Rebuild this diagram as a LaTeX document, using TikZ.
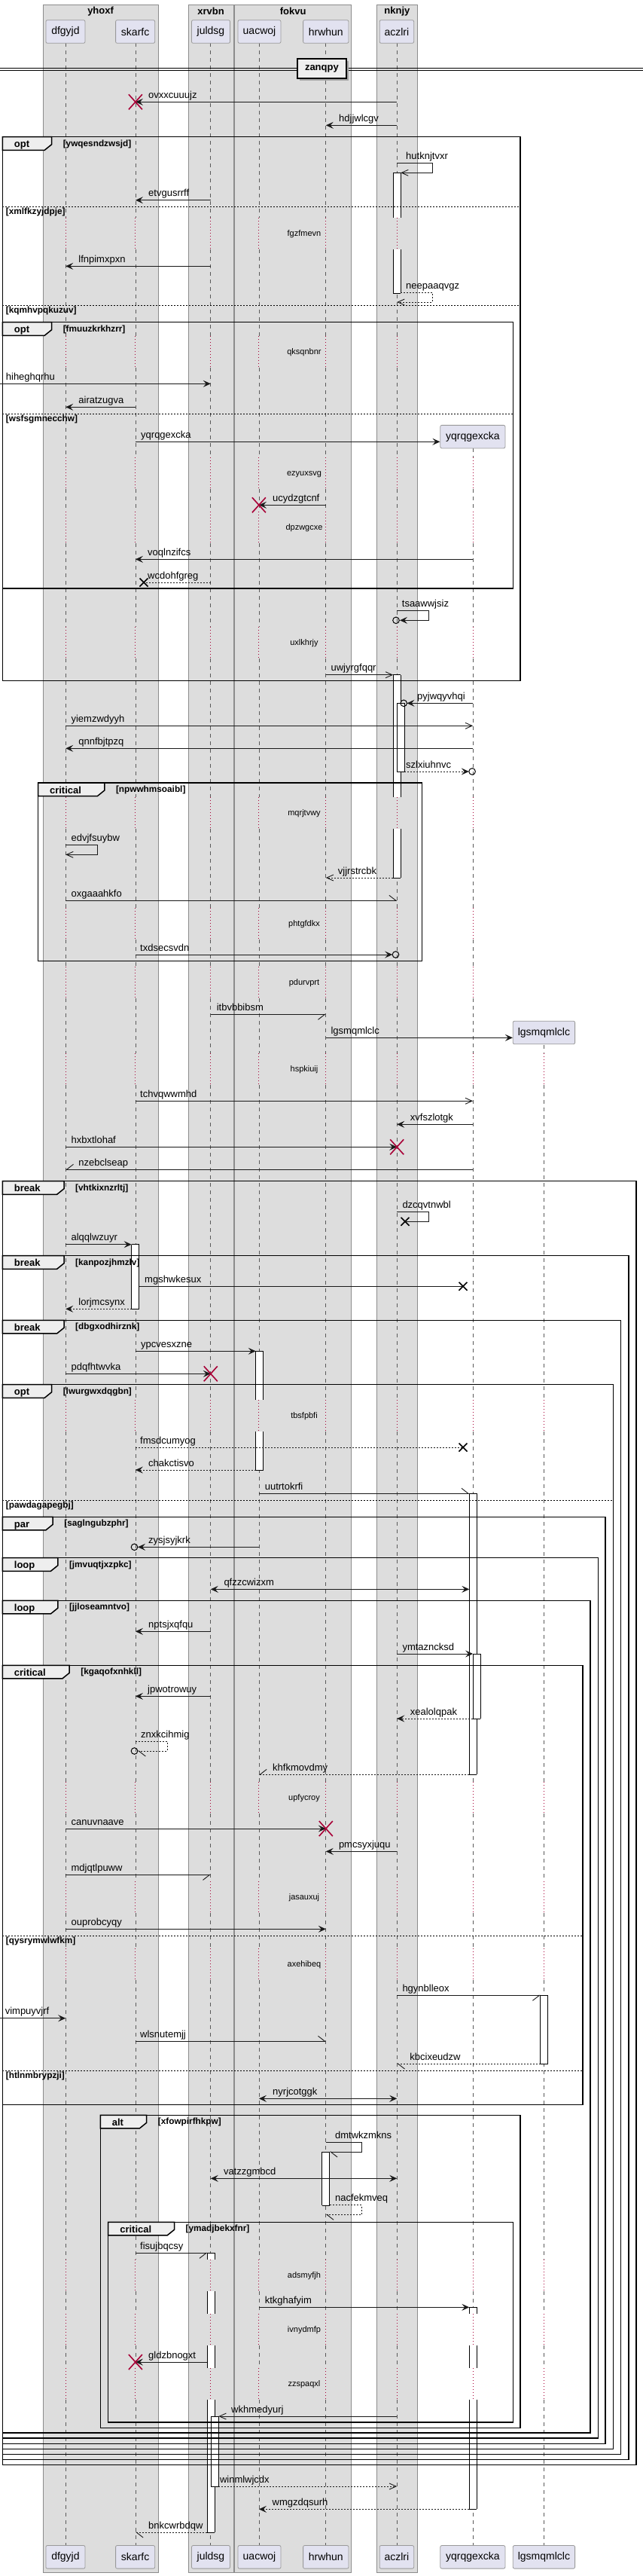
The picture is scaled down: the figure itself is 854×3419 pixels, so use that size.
\documentclass[tikz,border=0pt]{standalone}
\usepackage{fontspec}
\setmainfont{Liberation Sans}
\usetikzlibrary{arrows.meta}
\definecolor{grpfill}{HTML}{DDDDDD}
\definecolor{grpline}{HTML}{8C8C8C}
\definecolor{partfill}{HTML}{E2E2F0}
\definecolor{partline}{HTML}{9A9A9A}
\definecolor{tabfill}{HTML}{EEEEEE}
\definecolor{dred}{HTML}{A80036}
\definecolor{lgray}{HTML}{5A5A5A}
\def\Xdf{87.2}
\def\Xsk{179.9}
\def\Xju{279.8}
\def\Xua{343.9}
\def\Xhr{432.8}
\def\Xac{527.2}
\def\Xyq{628.1}
\def\Xlg{722.4}
\tikzset{
 mlbl/.style={anchor=base west,inner sep=0,font=\fontsize{13}{15}\selectfont},
 dlbl/.style={anchor=base,inner sep=0,font=\fontsize{11}{13}\selectfont},
 tlbl/.style={anchor=base west,inner sep=0,font=\fontsize{13}{15}\selectfont\bfseries},
 clbl/.style={anchor=base west,inner sep=0,font=\fontsize{11.8}{14}\selectfont\bfseries},
 frm/.style={draw=black,line width=1.5pt},
 ftab/.style={fill=tabfill,draw=black,line width=1.5pt},
 elsel/.style={draw=black,line width=1pt,dash pattern=on 2pt off 2pt},
 lifeln/.style={draw=lgray,line width=0.8pt,dash pattern=on 5pt off 5pt},
 dlyln/.style={draw=dred,line width=0.9pt,dash pattern=on 1pt off 3pt},
 actl/.style={draw=black,line width=0.9pt},
 msg/.style={draw=black!90,line width=0.9pt},
 ret/.style={msg,dash pattern=on 2pt off 2pt},
 fa/.style={-{Stealth[length=10pt,width=9pt,inset=4pt]}},
 oa/.style={-{Straight Barb[length=9pt,width=8pt]}},
 hpa/.style={-{Straight Barb[harpoon,length=9pt,width=14pt]}},
 hpb/.style={-{Straight Barb[harpoon,swap,length=9pt,width=14pt]}},
 bidi/.style={{Stealth[length=10pt,width=9pt,inset=4pt]}-{Stealth[length=10pt,width=9pt,inset=4pt]}},
 pbox/.style={draw=partline,fill=partfill,rounded corners=2pt,line width=0.8pt,inner sep=0,minimum height=30.6,font=\fontsize{14}{16}\selectfont},
 gbox/.style={fill=grpfill,draw=grpline,line width=0.8pt},
 gtitle/.style={font=\fontsize{13}{15}\selectfont\bfseries,inner sep=0},
}
\newcommand\lbl[3]{\node[mlbl] at (#1,#2-5) {#3};}
\newcommand\dly[2]{\node[dlbl] at (404,#1+3.5) {#2};}
\newcommand\redx[2]{\draw[dred,line width=1.6pt] (#1-9,#2-10) -- (#1+9,#2+10) (#1-9,#2+10) -- (#1+9,#2-10);}
\newcommand\blkx[2]{\draw[black,line width=1.6pt] (#1-5.5,#2-5.5) -- (#1+5.5,#2+5.5) (#1-5.5,#2+5.5) -- (#1+5.5,#2-5.5);}
\newcommand\opencirc[2]{\draw[black,line width=1pt] (#1,#2) circle (4.3);}
\newcommand\actp[3]{\fill[white] (#1-5,#2) rectangle (#1+5,#3); \draw[actl] (#1-5,#2) -- (#1-5,#3) (#1+5,#2) -- (#1+5,#3);}
\newcommand\acth[2]{\draw[actl] (#1-5,#2) -- (#1+5,#2);}
\newcommand\lifeline[2]{%
  \foreach \ya/\yb in {57.3/289,331/446,488/607,649/679,721/832,874/1058,1100/1205,1247/1283,1325/1398,1440/1858,1900/2365,2407/2497,2539/2586,2628/2999,3041/3071,3113/3143,3185/3378.3}{%
    \ifdim\yb pt>#2pt
      \pgfmathsetmacro\sa{max(\ya,#2)}%
      \draw[lifeln] (#1,\sa) -- (#1,\yb);
    \fi}%
  \foreach \ya/\yb in {289/331,446/488,607/649,679/721,832/874,1058/1100,1205/1247,1283/1325,1398/1440,1858/1900,2365/2407,2497/2539,2586/2628,2999/3041,3071/3113,3143/3185}{%
    \ifdim\yb pt>#2pt
      \pgfmathsetmacro\sa{max(\ya,#2)}%
      \draw[dlyln] (#1,\sa) -- (#1,\yb);
    \fi}%
}
\newcommand\gframe[7]{%
  \draw[frm] (#1,#2) rectangle (#3,#4);
  \filldraw[ftab] (#1,#2) -- (#5,#2) -- (#5,#2+10) -- (#5-9.4,#2+17.6) -- (#1,#2+17.6) -- cycle;
  \node[tlbl] at (#1+15.4,#2+14) {#6};
  \node[clbl] at (#5+15,#2+12.5) {#7};
}
\newcommand\gelse[4]{%
  \draw[elsel] (#1,#2) -- (#3,#2);
  \node[clbl] at (#1+4.4,#2+10) {#4};
}
\begin{document}
\begin{tikzpicture}[x=1pt,y=-1pt]
\useasboundingbox (0,0) rectangle (854,3419);
\fill[white] (0,0) rectangle (854,3419);
% groups
\draw[gbox] (57.0,6.3) rectangle (210.1,3414.3);
\draw[gbox] (250.1,6.3) rectangle (309.9,3414.3);
\draw[gbox] (311.6,6.3) rectangle (466.8,3414.3);
\draw[gbox] (500.3,6.3) rectangle (554.6,3414.3);
\node[gtitle] (g1) at (133.6,14.7) {yhoxf};
\node[gtitle] (g2) at (280,14.7) {xrvbn};
\node[gtitle] (g3) at (389.2,14.7) {fokvu};
\node[gtitle] (g4) at (527.4,14.7) {nknjy};
% lifelines
\lifeline{\Xdf}{57.3}
\lifeline{\Xsk}{57.3}
\lifeline{\Xju}{57.3}
\lifeline{\Xua}{57.3}
\lifeline{\Xhr}{57.3}
\lifeline{\Xac}{57.3}
\lifeline{\Xyq}{595}
\lifeline{\Xlg}{1386.7}
% participants
\node[pbox,minimum width=52.1] (dfgyjd) at (86.95,42) {dfgyjd};
\node[pbox,minimum width=52.1] (skarfc) at (179.65,42) {skarfc};
\node[pbox,minimum width=51] (juldsg) at (280,42) {juldsg};
\node[pbox,minimum width=57] (uacwoj) at (344.5,42) {uacwoj};
\node[pbox,minimum width=60.4] (hrwhun) at (432.8,42) {hrwhun};
\node[pbox,minimum width=45.5] (aczlri) at (526.9,42) {aczlri};
\node[pbox,minimum width=86.1] (yqrqgexcka) at (627.85,579.65) {yqrqgexcka};
\node[pbox,minimum width=82.3] (lgsmqmlclc) at (722.45,1370.5) {lgsmqmlclc};
\node[pbox,minimum width=52.1] (dfgyjdB) at (86.95,3393.8) {dfgyjd};
\node[pbox,minimum width=52.1] (skarfcB) at (179.65,3393.8) {skarfc};
\node[pbox,minimum width=51] (juldsgB) at (280,3393.8) {juldsg};
\node[pbox,minimum width=57] (uacwojB) at (344.5,3393.8) {uacwoj};
\node[pbox,minimum width=60.4] (hrwhunB) at (432.8,3393.8) {hrwhun};
\node[pbox,minimum width=45.5] (aczlriB) at (526.9,3393.8) {aczlri};
\node[pbox,minimum width=86.1] (yqrqgexckaB) at (627.85,3393.8) {yqrqgexcka};
\node[pbox,minimum width=82.3] (lgsmqmlclcB) at (722.45,3393.8) {lgsmqmlclc};
% divider
\draw[black,line width=0.9pt] (0,90.5) -- (854,90.5) (0,93.2) -- (854,93.2);
\fill[black!35] (398,81.3) rectangle (462.7,107);
\draw[fill=tabfill,line width=2pt] (395,78.3) rectangle (459.7,104);
\node[gtitle] (zanqpy) at (427.4,91.2) {zanqpy};
% activations
\actp{527.2}{229.3}{289}\acth{527.2}{229.3}
\actp{527.2}{331}{389}\acth{527.2}{389}
\actp{527.2}{895.7}{1058}\acth{527.2}{895.7}
\actp{527.2}{1100}{1165}\acth{527.2}{1165}
\actp{532.2}{933.3}{1024.3}\acth{532.2}{933.3}\acth{532.2}{1024.3}
\actp{179.65}{1651.7}{1737.3}\acth{179.65}{1651.7}\acth{179.65}{1737.3}
\actp{344.7}{1793.3}{1858}\acth{344.7}{1793.3}
\actp{344.7}{1900}{1951}\acth{344.7}{1951}
\actp{628.3}{1982.3}{2355.3}\acth{628.3}{1982.3}\acth{628.3}{2355.3}
\actp{633.1}{2195}{2281}\acth{633.1}{2195}\acth{633.1}{2281}
\actp{722.7}{2648.3}{2739}\acth{722.7}{2648.3}\acth{722.7}{2739}
\actp{432.8}{2856}{2927}\acth{432.8}{2856}\acth{432.8}{2927}
\actp{280.3}{2990.3}{2999}\acth{280.3}{2990.3}
\actp{280.3}{3041}{3071}
\actp{280.3}{3113}{3143}
\actp{280.3}{3185}{3361}\acth{280.3}{3361}
\actp{628.3}{3062.3}{3071}\acth{628.3}{3062.3}
\actp{628.3}{3113}{3143}
\actp{628.3}{3185}{3330.3}\acth{628.3}{3330.3}
\actp{285.3}{3207}{3300}\acth{285.3}{3207}\acth{285.3}{3300}
% frames
\gframe{3.3}{181.7}{691.2}{903.7}{68.6}{opt}{[ywqesndzwsjd]}
\gelse{3.3}{274.3}{691.2}{[xmlfkzyjdpje]}
\gelse{3.3}{405.3}{691.2}{[kqmhvpqkuzuv]}
\gframe{3.3}{427.7}{681.3}{781}{68.6}{opt}{[fmuuzkrkhzrr]}
\gelse{3.3}{549.3}{681.3}{[wsfsgmnecchw]}
\gframe{50.5}{1039}{560.6}{1275.3}{138.8}{critical}{[npwwhmsoaibl]}
\gframe{3.3}{1567.7}{844.8}{3271.7}{85}{break}{[vhtkixnzrltj]}
\gframe{3.3}{1666.7}{834.9}{3264.6}{85}{break}{[kanpozjhmzlv]}
\gframe{3.3}{1752.3}{824.5}{3257.5}{85}{break}{[dbgxodhirznk]}
\gframe{3.3}{1837.7}{814.6}{3250.4}{68.6}{opt}{[lwurgwxdqgbn]}
\gelse{3.3}{1991.3}{814.6}{[pawdagapegbj]}
\gframe{3.3}{2013.3}{804.2}{3243.3}{70.2}{par}{[saglngubzphr]}
\gframe{3.3}{2067.7}{794.3}{3236.2}{76.8}{loop}{[jmvuqtjxzpkc]}
\gframe{3.3}{2124.3}{783.9}{3229.1}{76.8}{loop}{[jjloseamntvo]}
\gframe{3.3}{2210.3}{774}{2793.3}{92.2}{critical}{[kgaqofxnhkll]}
\gelse{3.3}{2569.3}{774}{[qysrymwlwfkm]}
\gelse{3.3}{2748}{774}{[htlnmbrypzji]}
\gframe{133.3}{2807.3}{691.2}{3222.3}{194.7}{alt}{[xfowpirfhkpw]}
\gframe{143.7}{2949.3}{681.3}{3215}{231.5}{critical}{[ymadjbekxfnr]}
% delays
\dly{310}{fgzfmevn}
\dly{467.3}{qksqnbnr}
\dly{628.3}{ezyuxsvg}
\dly{700}{dpzwgcxe}
\dly{853.3}{uxlkhrjy}
\dly{1079.3}{mqrjtvwy}
\dly{1225.7}{phtgfdkx}
\dly{1304}{pdurvprt}
\dly{1419.3}{hspkiuij}
\dly{1879}{tbsfpbfi}
\dly{2385.7}{upfycroy}
\dly{2518.3}{jasauxuj}
\dly{2606.7}{axehibeq}
\dly{3020.3}{adsmyfjh}
\dly{3092.3}{ivnydmfp}
\dly{3164.3}{zzspaqxl}
% messages
\draw[msg,fa] (\Xac,135.3) -- (\Xsk,135.3); \redx{\Xsk}{135.3} \lbl{197}{135.3}{ovxxcuuujz}
\draw[msg,fa] (\Xac,166.3) -- (\Xhr,166.3); \lbl{450}{166.3}{hdjjwlcgv}
\draw[msg,oa] (\Xac,216.7) -- (574.3,216.7) -- (574.3,229.3) -- (532.2,229.3); \lbl{539}{216.7}{hutknjtvxr}
\draw[msg,fa] (\Xju,265.7) -- (\Xsk,265.7); \lbl{197}{265.7}{etvgusrrff}
\draw[msg,fa] (\Xju,353.3) -- (\Xdf,353.3); \lbl{104.2}{353.3}{lfnpimxpxn}
\draw[ret,oa] (532.2,388.3) -- (574.3,388.3) -- (574.3,401) -- (\Xac,401); \lbl{539}{388.3}{neepaaqvgz}
\draw[msg,fa] (0,509.3) -- (\Xju,509.3); \lbl{7.7}{509.3}{hiheghqrhu}
\draw[msg,fa] (\Xsk,540.3) -- (\Xdf,540.3); \lbl{104.2}{540.3}{airatzugva}
\draw[msg,fa] (\Xsk,586.3) -- (yqrqgexcka.west |- 0,586.3); \lbl{187}{586.3}{yqrqgexcka}
\draw[msg,fa] (\Xhr,670.3) -- (\Xua,670.3); \redx{\Xua}{670.3} \lbl{362}{670.3}{ucydzgtcnf}
\draw[msg,fa] (\Xyq,742.3) -- (\Xsk,742.3); \lbl{196}{742.3}{voqlnzifcs}
\draw[ret] (\Xju,773) -- (191,773); \blkx{191}{773} \lbl{196}{773}{wcdohfgreg}
\draw[msg,fa] (\Xac,810.7) -- (569.4,810.7) -- (569.4,823.3) -- (531,823.3); \opencirc{526}{823.3} \lbl{533.7}{810.7}{tsaawwjsiz}
\draw[msg,oa] (\Xhr,895.7) -- (522.2,895.7); \lbl{439.4}{895.7}{uwjyrgfqqr}
\draw[msg,fa] (\Xyq,933.3) -- (540.5,933.3); \opencirc{536.2}{933.3} \lbl{554}{933.3}{pyjwqyvhqi}
\draw[msg,oa] (\Xdf,963.3) -- (\Xyq,963.3); \lbl{94.4}{963.3}{yiemzwdyyh}
\draw[msg,fa] (\Xyq,993.3) -- (\Xdf,993.3); \lbl{104.2}{993.3}{qnnfbjtpzq}
\draw[ret,fa] (537.2,1024) -- (622.8,1024); \opencirc{627.1}{1024} \lbl{539}{1024}{szlxiuhnvc}
\draw[msg,oa] (\Xdf,1121.3) -- (129.5,1121.3) -- (129.5,1134.3) -- (\Xdf,1134.3); \lbl{94.4}{1121.3}{edvjfsuybw}
\draw[ret,oa] (522.2,1165) -- (\Xhr,1165); \lbl{448.7}{1165}{vjjrstrcbk}
\draw[msg,hpa] (\Xdf,1195.3) -- (\Xac,1195.3); \lbl{94.4}{1195.3}{oxgaaahkfo}
\draw[msg,fa] (\Xsk,1267) -- (521.2,1267); \opencirc{525.5}{1267} \lbl{186}{1267}{txdsecsvdn}
\draw[msg,hpb] (\Xju,1346.3) -- (\Xhr,1346.3); \lbl{287.6}{1346.3}{itbvbbibsm}
\draw[msg,fa] (\Xhr,1377.3) -- (lgsmqmlclc.west |- 0,1377.3); \lbl{439.4}{1377.3}{lgsmqmlclc}
\draw[msg,oa] (\Xsk,1461.3) -- (\Xyq,1461.3); \lbl{186}{1461.3}{tchvqwwmhd}
\draw[msg,fa] (\Xyq,1492.3) -- (\Xac,1492.3); \lbl{544.7}{1492.3}{xvfszlotgk}
\draw[msg,fa] (\Xdf,1522.3) -- (\Xac,1522.3); \redx{\Xac}{1522.3} \lbl{94.4}{1522.3}{hxbxtlohaf}
\draw[msg,hpb] (\Xyq,1552.3) -- (\Xdf,1552.3); \lbl{104.2}{1552.3}{nzebclseap}
\draw[msg] (\Xac,1608.3) -- (569.4,1608.3) -- (569.4,1621.3) -- (538,1621.3); \blkx{538}{1621.3} \lbl{534.3}{1608.3}{dzcqvtnwbl}
\draw[msg,fa] (\Xdf,1651.7) -- (174.65,1651.7); \lbl{94.4}{1651.7}{alqqlwzuyr}
\draw[msg] (184.65,1707.3) -- (615,1707.3); \blkx{615}{1707.3} \lbl{192}{1707.3}{mgshwkesux}
\draw[ret,fa] (174.65,1737.3) -- (\Xdf,1737.3); \lbl{104.2}{1737.3}{lorjmcsynx}
\draw[msg,fa] (\Xsk,1793.3) -- (339.7,1793.3); \lbl{187}{1793.3}{ypcvesxzne}
\draw[msg,fa] (\Xdf,1823.3) -- (\Xju,1823.3); \redx{\Xju}{1823.3} \lbl{94.4}{1823.3}{pdqfhtwvka}
\draw[ret] (\Xsk,1921) -- (615,1921); \blkx{615}{1921} \lbl{186}{1921}{fmsdcumyog}
\draw[ret,fa] (339.7,1951) -- (\Xsk,1951); \lbl{197}{1951}{chakctisvo}
\draw[msg,hpa] (\Xua,1982.3) -- (623.3,1982.3); \lbl{351.6}{1982.3}{uutrtokrfi}
\draw[msg,fa] (\Xua,2053.3) -- (183,2053.3); \opencirc{178.5}{2053.3} \lbl{197}{2053.3}{zysjsyjkrk}
\draw[msg,bidi] (\Xju,2109.3) -- (623.3,2109.3); \lbl{297.3}{2109.3}{qfzzcwizxm}
\draw[msg,fa] (\Xju,2165.3) -- (\Xsk,2165.3); \lbl{197}{2165.3}{nptsjxqfqu}
\draw[msg,fa] (\Xac,2195) -- (628.1,2195); \lbl{534.3}{2195}{ymtazncksd}
\draw[msg,fa] (\Xju,2251.3) -- (\Xsk,2251.3); \lbl{196}{2251.3}{jpwotrowuy}
\draw[ret,fa] (628.1,2281) -- (\Xac,2281); \lbl{544.7}{2281}{xealolqpak}
\draw[ret,hpa] (\Xsk,2311.3) -- (222.2,2311.3) -- (222.2,2324) -- (183,2324); \opencirc{178.5}{2324} \lbl{187}{2311.3}{znxkcihmig}
\draw[ret,hpb] (623.3,2355.3) -- (\Xua,2355.3); \lbl{362}{2355.3}{khfkmovdmy}
\draw[msg,fa] (\Xdf,2427) -- (\Xhr,2427); \redx{\Xhr}{2427} \lbl{94.4}{2427}{canuvnaave}
\draw[msg,fa] (\Xac,2457.3) -- (\Xhr,2457.3); \lbl{449.8}{2457.3}{pmcsyxjuqu}
\draw[msg,hpb] (\Xdf,2488.3) -- (\Xju,2488.3); \lbl{94.4}{2488.3}{mdjqtlpuww}
\draw[msg,fa] (\Xdf,2560.3) -- (\Xhr,2560.3); \lbl{94.4}{2560.3}{ouprobcyqy}
\draw[msg,hpb] (\Xac,2648.3) -- (717.7,2648.3); \lbl{534.3}{2648.3}{hgynblleox}
\draw[msg,fa] (0,2678.7) -- (\Xdf,2678.7); \lbl{6.6}{2678.7}{vimpuyvjrf}
\draw[msg,hpa] (\Xsk,2709.3) -- (\Xhr,2709.3); \lbl{186}{2709.3}{wlsnutemjj}
\draw[ret,hpa] (717.7,2739) -- (\Xac,2739); \lbl{544.2}{2739}{kbcixeudzw}
\draw[msg,bidi] (\Xua,2785.3) -- (\Xac,2785.3); \lbl{362}{2785.3}{nyrjcotggk}
\draw[msg,hpa] (\Xhr,2843.3) -- (480,2843.3) -- (480,2856) -- (437.8,2856); \lbl{444.9}{2843.3}{dmtwkzmkns}
\draw[msg,bidi] (\Xju,2891.3) -- (\Xac,2891.3); \lbl{296.8}{2891.3}{vatzzgmbcd}
\draw[ret,hpa] (437.8,2926.7) -- (480,2926.7) -- (480,2939.3) -- (\Xhr,2939.3); \lbl{444.9}{2926.7}{nacfekmveq}
\draw[msg,hpb] (\Xsk,2990.3) -- (275.3,2990.3); \lbl{186}{2990.3}{fisujbqcsy}
\draw[msg,fa] (\Xua,3062.3) -- (623.3,3062.3); \lbl{351.6}{3062.3}{ktkghafyim}
\draw[msg,fa] (275.3,3135) -- (\Xsk,3135); \redx{\Xsk}{3135} \lbl{197}{3135}{gldzbnogxt}
\draw[msg,oa] (\Xac,3207) -- (290.3,3207); \lbl{307}{3207}{wkhmedyurj}
\draw[ret,oa] (290.3,3300) -- (\Xac,3300); \lbl{291.8}{3300}{winmlwjcdx}
\draw[ret,fa] (623.3,3330.3) -- (\Xua,3330.3); \lbl{361.5}{3330.3}{wmgzdqsurh}
\draw[ret,hpa] (275.3,3361) -- (\Xsk,3361); \lbl{197}{3361}{bnkcwrbdqw}
\end{tikzpicture}
\end{document}
